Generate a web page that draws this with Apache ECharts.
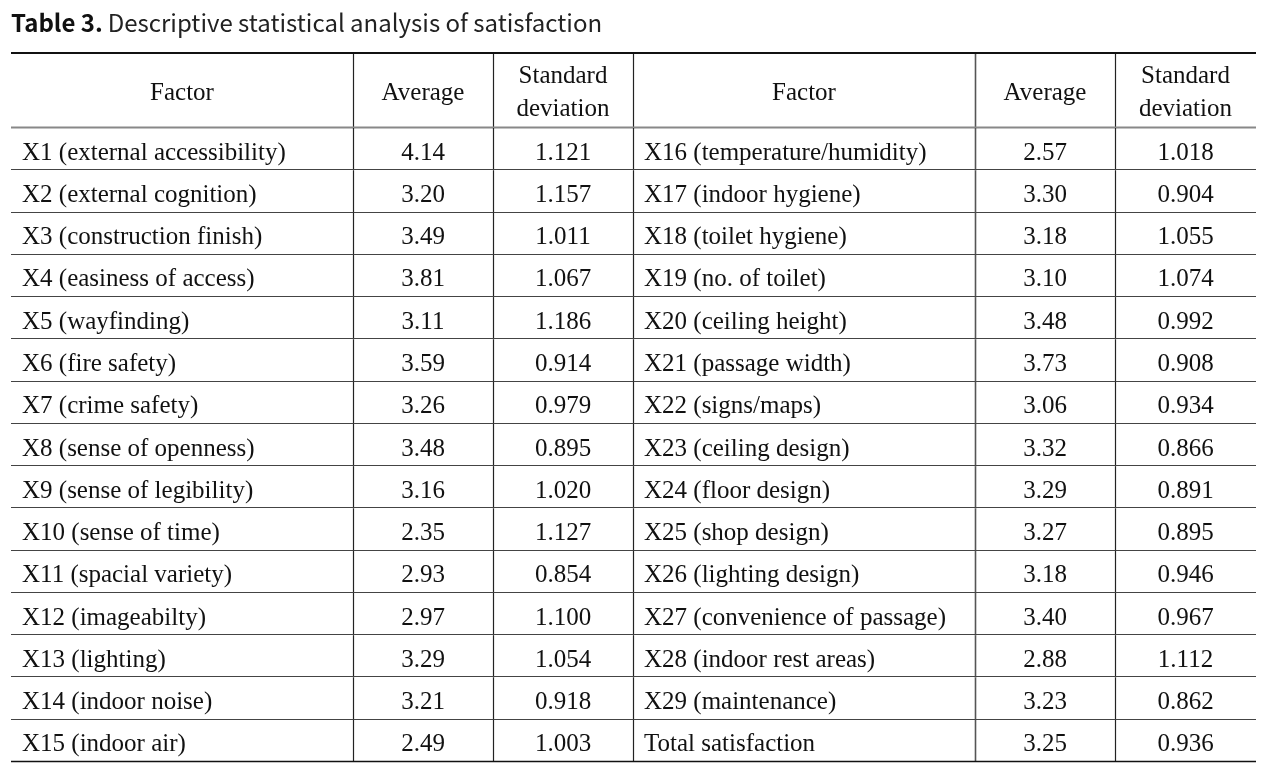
<!DOCTYPE html>
<html>
<head>
<meta charset="utf-8">
<script src="https://cdn.jsdelivr.net/npm/echarts@6/dist/echarts.min.js"></script>
<style>
  html, body { margin: 0; padding: 0; background: #fff; }
  #chart { width: 1275px; height: 763px; }
</style>
</head>
<body>
<div id="chart"></div>
<script>
// ---- Data ----
const headerLabels = ['Factor', 'Average', 'Standard\ndeviation'];

const leftFactors = [
  'X1 (external accessibility)', 'X2 (external cognition)', 'X3 (construction finish)',
  'X4 (easiness of access)', 'X5 (wayfinding)', 'X6 (fire safety)', 'X7 (crime safety)',
  'X8 (sense of openness)', 'X9 (sense of legibility)', 'X10 (sense of time)',
  'X11 (spacial variety)', 'X12 (imageabilty)', 'X13 (lighting)', 'X14 (indoor noise)',
  'X15 (indoor air)'
];
const leftAverage = [4.14, 3.20, 3.49, 3.81, 3.11, 3.59, 3.26, 3.48, 3.16, 2.35, 2.93, 2.97, 3.29, 3.21, 2.49];
const leftSD = [1.121, 1.157, 1.011, 1.067, 1.186, 0.914, 0.979, 0.895, 1.020, 1.127, 0.854, 1.100, 1.054, 0.918, 1.003];

const rightFactors = [
  'X16 (temperature/humidity)', 'X17 (indoor hygiene)', 'X18 (toilet hygiene)',
  'X19 (no. of toilet)', 'X20 (ceiling height)', 'X21 (passage width)', 'X22 (signs/maps)',
  'X23 (ceiling design)', 'X24 (floor design)', 'X25 (shop design)', 'X26 (lighting design)',
  'X27 (convenience of passage)', 'X28 (indoor rest areas)', 'X29 (maintenance)',
  'Total satisfaction'
];
const rightAverage = [2.57, 3.30, 3.18, 3.10, 3.48, 3.73, 3.06, 3.32, 3.29, 3.27, 3.18, 3.40, 2.88, 3.23, 3.25];
const rightSD = [1.018, 0.904, 1.055, 1.074, 0.992, 0.908, 0.934, 0.866, 0.891, 0.895, 0.946, 0.967, 1.112, 0.862, 0.936];

// ---- Layout (axis units) ----
const COL_EDGES = [0, 342, 482, 622, 964, 1104, 1245];
const HEADER_H = 76;
const ROW_H = 42.27;
const TOTAL_H = HEADER_H + ROW_H * leftFactors.length;

function cellText(r, c) {
  if (r === 0) return headerLabels[c % 3];
  const i = r - 1;
  switch (c) {
    case 0: return leftFactors[i];
    case 1: return leftAverage[i].toFixed(2);
    case 2: return leftSD[i].toFixed(3);
    case 3: return rightFactors[i];
    case 4: return rightAverage[i].toFixed(2);
    case 5: return rightSD[i].toFixed(3);
  }
}

const rows = [];
for (let r = 0; r <= leftFactors.length; r++) rows.push([r]);
const nRows = leftFactors.length;

const FONT = 'Liberation Serif';

function renderItem(params, api) {
  const r = api.value(0);
  const y0 = r === 0 ? 0 : HEADER_H + (r - 1) * ROW_H;
  const y1 = r === 0 ? HEADER_H : HEADER_H + r * ROW_H;
  const children = [];
  for (let c = 0; c < 6; c++) {
    const x0 = COL_EDGES[c], x1 = COL_EDGES[c + 1];
    const left = (c % 3 === 0) && r > 0;
    const px = left ? x0 + 11 : (x0 + x1) / 2;
    const p = api.coord([px, (y0 + y1) / 2]);
    children.push({
      type: 'text',
      style: {
        text: cellText(r, c),
        x: p[0], y: p[1] + (r === 0 ? 3 : 4),
        align: left ? 'left' : 'center',
        verticalAlign: 'middle',
        fontFamily: FONT,
        fontSize: 25,
        lineHeight: 33,
        fill: '#111'
      }
    });
  }
  // vertical separators
  for (let c = 1; c < 6; c++) {
    const a = api.coord([COL_EDGES[c], y0]);
    const b = api.coord([COL_EDGES[c], y1]);
    children.push({
      type: 'line',
      shape: { x1: Math.round(a[0]) + 0.5, y1: a[1], x2: Math.round(b[0]) + 0.5, y2: b[1] },
      style: { stroke: c === 4 ? '#555' : '#222', lineWidth: c === 4 ? 1.6 : 1.2 }
    });
  }
  // bottom horizontal line of the row
  const l = api.coord([COL_EDGES[0], y1]);
  const rr = api.coord([COL_EDGES[6], y1]);
  let stroke = '#444', lw = 1.2;
  if (r === 0) { stroke = '#888'; lw = 2.2; }
  if (r === nRows) { stroke = '#111'; lw = 1.6; }
  children.push({
    type: 'line',
    shape: { x1: l[0], y1: Math.round(l[1]) - 0.5, x2: rr[0], y2: Math.round(rr[1]) - 0.5 },
    style: { stroke: stroke, lineWidth: lw }
  });
  // top rule
  if (r === 0) {
    const t1 = api.coord([COL_EDGES[0], 0]);
    const t2 = api.coord([COL_EDGES[6], 0]);
    children.push({
      type: 'line',
      shape: { x1: t1[0], y1: t1[1] + 1, x2: t2[0], y2: t2[1] + 1 },
      style: { stroke: '#111', lineWidth: 2.2 }
    });
  }
  return { type: 'group', children: children };
}

const chart = echarts.init(document.getElementById('chart'), null, { renderer: 'canvas' });
chart.setOption({
  animation: false,
  backgroundColor: '#fff',
  title: {
    left: 6, top: 6,
    text: '{b|Table 3.} {n|Descriptive statistical analysis of satisfaction}',
    textStyle: {
      rich: {
        b: { fontFamily: '"Noto Sans CJK KR", "Noto Sans", sans-serif', fontWeight: 'bold', fontSize: 24, color: '#111' },
        n: { fontFamily: '"Noto Sans CJK KR", "Noto Sans", sans-serif', fontWeight: 'normal', fontSize: 24, color: '#222' }
      }
    }
  },
  grid: { left: 11, right: 19, top: 52, bottom: 1 },
  xAxis: { type: 'value', min: 0, max: COL_EDGES[6], show: false },
  yAxis: { type: 'value', min: 0, max: TOTAL_H, inverse: true, show: false },
  series: [{
    type: 'custom',
    silent: true,
    clip: false,
    renderItem: renderItem,
    data: rows
  }]
});
</script>
</body>
</html>
